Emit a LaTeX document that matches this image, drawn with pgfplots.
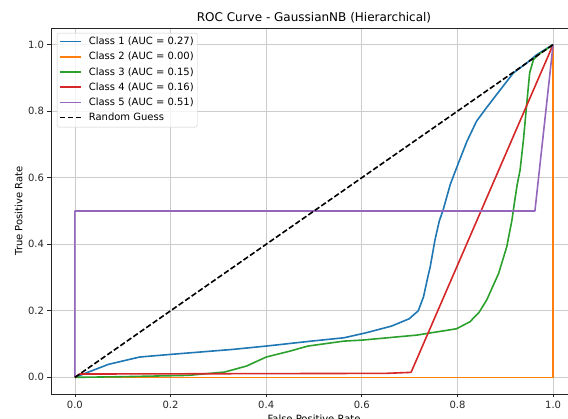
\documentclass[border=0pt]{standalone}
\usepackage{fontspec}
\setmainfont{DejaVu Sans}
\usepackage{pgfplots}
\pgfplotsset{compat=1.18}
\definecolor{mplblue}{HTML}{1F77B4}
\definecolor{mplorange}{HTML}{FF7F0E}
\definecolor{mplgreen}{HTML}{2CA02C}
\definecolor{mplred}{HTML}{D62728}
\definecolor{mplpurple}{HTML}{9467BD}
\begin{document}
\begin{tikzpicture}
\useasboundingbox (0,0) rectangle (568pt,419pt);
\clip (0,0) rectangle (568pt,419pt);
\begin{axis}[
  at={(51pt,25pt)}, anchor=south west,
  scale only axis, width=526pt, height=366pt,
  xmin=-0.05, xmax=1.05, ymin=-0.05, ymax=1.05,
  xtick={0,0.2,0.4,0.6,0.8,1.0}, ytick={0,0.2,0.4,0.6,0.8,1.0},
  tick pos=left, tick align=outside, major tick length=3.5pt,
  every tick/.style={black!85, line width=0.8pt},
  axis line style={black!85, line width=0.8pt},
  grid=major, major grid style={black!20, line width=0.8pt},
  /pgf/number format/assume math mode=true,
  ticklabel style={font=\fontsize{10}{12}\selectfont, text=black!85},
  xticklabel style={/pgf/number format/.cd, fixed, fixed zerofill, precision=1},
  yticklabel style={/pgf/number format/.cd, fixed, fixed zerofill, precision=1},
  legend cell align=left,
  legend style={at={(0,1)}, anchor=north west, xshift=6pt, yshift=-5pt,
    draw=black!20, rounded corners=2pt, fill=white, fill opacity=0.8, text opacity=1,
    font=\fontsize{10}{12}\selectfont, inner xsep=2pt, inner ysep=1.4pt,
    row sep=0pt, column sep=5.5pt,
    nodes={inner xsep=1.5pt, inner ysep=2.6pt, text height=7.6pt, text depth=2.4pt}},
  legend image code/.code={\draw[#1] (0pt,0.5pt) -- (21pt,0.5pt);},
]
\addplot[color=mplblue, line width=1.6pt, line join=round] coordinates {(0,0) (0.025,0.014) (0.07,0.039) (0.135,0.061) (0.2,0.069) (0.33,0.084) (0.4,0.094) (0.495,0.109) (0.563,0.119) (0.609,0.134) (0.662,0.154) (0.699,0.176) (0.718,0.200) (0.729,0.242) (0.737,0.295) (0.743,0.332) (0.753,0.413) (0.762,0.47) (0.770,0.503) (0.785,0.58) (0.802,0.644) (0.82,0.71) (0.840,0.77) (0.860,0.809) (0.89,0.865) (0.917,0.915) (0.945,0.945) (0.966,0.97) (1,1)};
\addlegendentry{Class 1 (AUC = 0.27)}
\addplot[color=mplorange, line width=1.6pt, line join=round] coordinates {(0,0) (1,0) (1,1)};
\addlegendentry{Class 2 (AUC = 0.00)}
\addplot[color=mplgreen, line width=1.6pt, line join=round] coordinates {(0,0) (0.1,0.002) (0.237,0.006) (0.313,0.016) (0.359,0.034) (0.40,0.061) (0.45,0.079) (0.487,0.094) (0.563,0.109) (0.601,0.112) (0.715,0.127) (0.798,0.146) (0.826,0.167) (0.845,0.195) (0.861,0.232) (0.886,0.312) (0.903,0.392) (0.914,0.473) (0.920,0.533) (0.925,0.58) (0.931,0.623) (0.938,0.714) (0.945,0.824) (0.951,0.915) (0.959,0.955) (0.969,0.97) (1,1)};
\addlegendentry{Class 3 (AUC = 0.15)}
\addplot[color=mplred, line width=1.6pt, line join=round] coordinates {(0,0) (0.01,0.01) (0.65,0.012) (0.703,0.015) (1,1)};
\addlegendentry{Class 4 (AUC = 0.16)}
\addplot[color=mplpurple, line width=1.6pt, line join=round] coordinates {(0,0) (0,0.5) (0.962,0.5) (1,1)};
\addlegendentry{Class 5 (AUC = 0.51)}
\addplot[color=black, line width=1.6pt, dash pattern=on 5.5pt off 2.4pt] coordinates {(0,0) (1,1)};
\addlegendentry{Random Guess}
\end{axis}
\node[anchor=base, font=\fontsize{12}{14}\selectfont] at (314pt,397.3pt) {ROC Curve - GaussianNB (Hierarchical)};
\node[anchor=base, font=\fontsize{10}{12}\selectfont] at (314pt,-3.3pt) {False Positive Rate};
\node[anchor=base, rotate=90, font=\fontsize{10}{12}\selectfont] at (22.3pt,208pt) {True Positive Rate};
\end{tikzpicture}
\end{document}
